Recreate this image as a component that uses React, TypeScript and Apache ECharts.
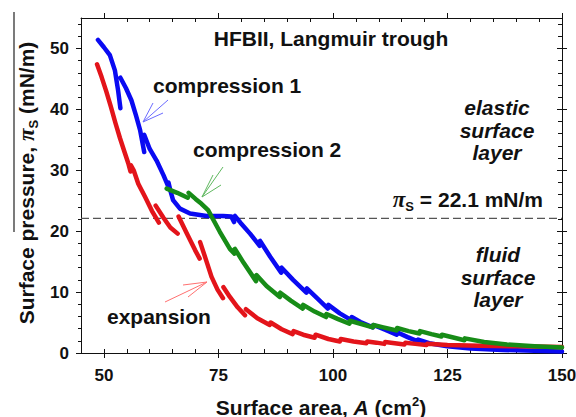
import React, { useEffect, useRef } from 'react';
import * as echarts from 'echarts';

const FONT = '"Liberation Sans", Arial, Helvetica, sans-serif';
const SERIF = '"Liberation Serif", "DejaVu Serif", serif';

// Axes
const xRange = [45, 150];
const yRange = [0, 55];
const xLabelTicks = [50, 75, 100, 125, 150];
const xMinorTicks = [55, 60, 65, 70, 80, 85, 90, 95, 105, 110, 115, 120, 130, 135, 140, 145];
const yLabelTicks = [0, 10, 20, 30, 40, 50];
const yMinorTicks = [2, 4, 6, 8, 12, 14, 16, 18, 22, 24, 26, 28, 32, 34, 36, 38, 42, 44, 46, 48, 52, 54];
const transitionPressure = 22.1;

// Compression 1 (blue): segments of [area cm2, pressure mN/m]
const compression1 = [
  [[48.7, 51.4], [50.0, 50.2], [51.3, 48.9], [52.4, 46.4], [53.1, 43.1], [53.6, 40.2]],
  [[53.6, 45.2], [54.8, 43.5], [56.0, 41.5], [57.0, 39.0], [57.9, 36.6], [58.8, 33.0]],
  [[58.8, 35.8], [60.0, 33.5], [61.5, 31.6], [63.0, 29.2], [63.9, 27.6]],
  [[64.1, 28.0], [64.6, 26.4], [65.1, 25.1], [66.6, 23.7], [68.8, 22.9], [72.4, 22.5], [76.0, 22.5], [77.8, 22.4], [78.4, 21.5]],
  [[78.6, 22.5], [79.8, 21.4], [81.9, 19.6], [84.0, 17.6]],
  [[84.1, 18.4], [86.3, 15.8], [88.7, 13.2]],
  [[88.8, 14.0], [91.3, 12.0], [94.2, 9.9]],
  [[94.3, 10.6], [96.7, 8.9], [98.9, 7.3]],
  [[99.0, 7.9], [101.5, 6.5], [104.0, 5.4]],
  [[104.1, 5.9], [106.0, 5.1], [108.7, 4.2]],
  [[108.8, 4.6], [111.5, 3.8], [113.9, 3.0]],
  [[114.0, 3.4], [116.3, 2.6], [118.5, 1.9]],
  [[118.6, 2.2], [121.0, 1.6], [125.0, 1.1], [130.0, 0.75], [137.0, 0.5], [144.0, 0.35], [150.0, 0.25]],
];

// Compression 2 (green)
const compression2 = [
  [[63.7, 27.0], [66.0, 26.3], [68.3, 25.5]],
  [[68.5, 26.3], [70.0, 25.3], [71.3, 24.5], [72.8, 23.4], [73.5, 22.4], [75.3, 19.9], [77.5, 17.1], [78.5, 16.3]],
  [[78.6, 17.1], [80.5, 14.8], [83.2, 11.8]],
  [[83.3, 12.8], [85.5, 11.0], [88.4, 9.2]],
  [[88.5, 9.9], [90.8, 8.6], [93.4, 7.3]],
  [[93.5, 7.9], [96.0, 6.8], [98.5, 5.9]],
  [[98.6, 6.4], [101.0, 5.6], [103.6, 4.8]],
  [[103.7, 5.3], [106.0, 4.8], [108.7, 4.2]],
  [[108.8, 4.6], [111.0, 4.2], [113.9, 3.7]],
  [[114.0, 4.1], [116.5, 3.6], [118.9, 3.2]],
  [[119.0, 3.6], [121.5, 3.1], [123.7, 2.7]],
  [[123.8, 3.0], [126.5, 2.5], [128.7, 2.1]],
  [[128.8, 2.4], [133.0, 1.8], [138.0, 1.4], [144.0, 1.1], [150.0, 0.9]],
];

// Expansion (red)
const expansion = [
  [[48.5, 47.4], [49.5, 45.3], [50.5, 43.0], [51.5, 40.5], [52.5, 37.8], [53.5, 35.3], [54.5, 33.0], [55.3, 31.2], [55.8, 29.8]],
  [[55.9, 30.8], [56.5, 30.0], [57.5, 27.8], [59.0, 25.6], [60.5, 23.3], [62.0, 21.4]],
  [[61.3, 24.2], [63.0, 22.2], [64.5, 20.6], [66.1, 19.6]],
  [[66.3, 22.4], [68.0, 19.8], [69.9, 16.9], [70.9, 15.5]],
  [[71.0, 18.2], [72.2, 15.5], [73.5, 12.5], [74.8, 10.4], [76.0, 9.0]],
  [[76.1, 10.8], [77.5, 9.2], [79.2, 7.5], [80.8, 6.2]],
  [[81.0, 7.2], [83.5, 5.7], [86.2, 4.6]],
  [[86.4, 5.0], [88.8, 3.9], [91.2, 3.1]],
  [[91.4, 3.6], [93.5, 3.0], [96.0, 2.5]],
  [[96.2, 3.0], [99.0, 2.3], [101.5, 1.9]],
  [[101.7, 2.3], [104.5, 1.9], [107.3, 1.6]],
  [[107.5, 1.9], [109.5, 1.7], [111.2, 1.5]],
  [[111.4, 1.8], [113.5, 1.6], [115.6, 1.4]],
  [[115.8, 1.7], [118.0, 1.5], [120.4, 1.3]],
  [[120.6, 1.5], [125.0, 1.3], [132.0, 1.2], [140.0, 1.1], [150.0, 1.0]],
];

const BLUE = '#0a0af2';
const GREEN = '#178c17';
const RED = '#e3141a';

function toLine(segments: number[][][]) {
  const out: any[] = [];
  segments.forEach((seg, i) => {
    if (i > 0) out.push([seg[0][0], '-']);
    seg.forEach((p) => out.push(p));
  });
  return out;
}

const tickColor = '#111';

export default function App() {
  const ref = useRef<HTMLDivElement>(null);
  useEffect(() => {
    if (!ref.current) return;
    const chart = echarts.init(ref.current, undefined, { renderer: 'svg' });

    const xCommon: any = {
      type: 'value', min: xRange[0], max: xRange[1], splitLine: { show: false },
    };
    const yCommon: any = {
      type: 'value', min: yRange[0], max: yRange[1], splitLine: { show: false },
    };
    const line = (show: boolean) => ({ show, onZero: false, lineStyle: { color: '#111', width: 1 } });
    const tick = (values: number[], inside: boolean, length: number) => ({
      show: true, inside, length, customValues: values, lineStyle: { color: tickColor, width: 1 },
    });
    const labelStyle = { fontSize: 17, fontWeight: 'bold', color: '#111', fontFamily: FONT };

    const lineSeries = (name: string, segs: number[][][], color: string, z: number) => ({
      type: 'line', name, data: toLine(segs), xAxisIndex: 0, yAxisIndex: 0,
      symbol: 'none', showSymbol: false, connectNulls: false, z,
      lineStyle: { color, width: 4.5, cap: 'round', join: 'round' },
    });

    const arrow = (color: string, tip: number[], ends: number[][]) =>
      ends.map((e) => ({
        type: 'line', silent: true,
        shape: { x1: tip[0], y1: tip[1], x2: e[0], y2: e[1] },
        style: { stroke: color, lineWidth: 1 },
      }));

    const textEl = (text: string, x: number, y: number, extra: any = {}) => ({
      type: 'text', x, y, silent: true,
      style: {
        text, fontSize: 21, fontWeight: 'bold', fontFamily: FONT, fill: '#111',
        align: 'left', verticalAlign: 'middle', ...extra,
      },
    });

    chart.setOption({
      animation: false,
      backgroundColor: '#fff',
      grid: { left: 81, right: 14, top: 18, bottom: 64, containLabel: false, outerBoundsMode: 'none' },
      xAxis: [
        { ...xCommon, position: 'bottom', axisLine: line(true), axisTick: tick([...xLabelTicks, ...xMinorTicks], true, 4),
          axisLabel: { show: true, customValues: xLabelTicks, margin: 14, ...labelStyle } },
        { ...xCommon, position: 'bottom', axisLine: line(false), axisTick: tick(xLabelTicks, false, 5), axisLabel: { show: false } },
        { ...xCommon, position: 'top', axisLine: line(true), axisTick: tick(xMinorTicks, true, 4), axisLabel: { show: false } },
        { ...xCommon, position: 'top', axisLine: line(false), axisTick: tick(xLabelTicks, false, 5), axisLabel: { show: false } },
      ],
      yAxis: [
        { ...yCommon, position: 'left', axisLine: line(true), axisTick: tick(yLabelTicks, false, 5),
          axisLabel: { show: true, customValues: yLabelTicks, margin: 12, ...labelStyle } },
        { ...yCommon, position: 'left', axisLine: line(false), axisTick: tick(yMinorTicks, false, 3), axisLabel: { show: false } },
        { ...yCommon, position: 'right', axisLine: line(true), axisTick: tick(yMinorTicks, true, 4), axisLabel: { show: false } },
        { ...yCommon, position: 'right', axisLine: line(false), axisTick: tick(yLabelTicks, true, 5), axisLabel: { show: false } },
        { ...yCommon, position: 'right', axisLine: line(false), axisTick: tick(yLabelTicks, false, 5), axisLabel: { show: false } },
      ],
      series: [
        {
          type: 'line', name: 'threshold', xAxisIndex: 0, yAxisIndex: 0, symbol: 'none', z: 1,
          data: [[xRange[0], transitionPressure], [xRange[1], transitionPressure]],
          lineStyle: { color: '#555', width: 1.4, type: [8, 4] },
        },
        lineSeries('compression 1', compression1, BLUE, 2),
        lineSeries('expansion', expansion, RED, 3),
        lineSeries('compression 2', compression2, GREEN, 4),
      ],
      graphic: [
        { type: 'line', silent: true, shape: { x1: 14, y1: 12, x2: 14, y2: 232 }, style: { stroke: '#222', lineWidth: 1.2 } },
        textEl('HFBII, Langmuir trough', 331, 38, { align: 'center' }),
        textEl('compression 1', 153, 85),
        textEl('compression 2', 193, 149),
        textEl('expansion', 107, 316),
        textEl('elastic\nsurface\nlayer', 497, 130, { align: 'center', fontStyle: 'italic', lineHeight: 22.5 }),
        textEl('fluid\nsurface\nlayer', 498, 277, { align: 'center', fontStyle: 'italic', lineHeight: 22.5 }),
        textEl('{pi|π}{sub|S} = 22.1 mN/m', 543, 199, {
          align: 'right', lineHeight: 28,
          rich: {
            pi: { fontFamily: SERIF, fontStyle: 'italic', fontWeight: 'bold', fontSize: 23, fill: '#111' },
            sub: { fontFamily: FONT, fontWeight: 'bold', fontSize: 13, verticalAlign: 'bottom', fill: '#111' },
          },
        }),
        {
          type: 'text', x: 26, y: 183, rotation: Math.PI / 2, silent: true,
          style: {
            text: 'Surface pressure, {pi|π}{sub|S} (mN/m)', fontSize: 21, fontWeight: 'bold', fontFamily: FONT,
            fill: '#111', align: 'center', verticalAlign: 'middle', lineHeight: 28,
            rich: {
              pi: { fontFamily: SERIF, fontStyle: 'italic', fontWeight: 'bold', fontSize: 23, fill: '#111' },
              sub: { fontFamily: FONT, fontWeight: 'bold', fontSize: 13, verticalAlign: 'bottom', fill: '#111' },
            },
          },
        },
        {
          type: 'text', x: 321, y: 407, silent: true,
          style: {
            text: 'Surface area, {i|A} (cm{sup|2})', fontSize: 21, fontWeight: 'bold', fontFamily: FONT,
            fill: '#111', align: 'center', verticalAlign: 'middle', lineHeight: 24,
            rich: {
              i: { fontFamily: FONT, fontStyle: 'italic', fontWeight: 'bold', fontSize: 21, fill: '#111' },
              sup: { fontFamily: FONT, fontWeight: 'bold', fontSize: 13, verticalAlign: 'top', fill: '#111' },
            },
          },
        },
        ...arrow('#6b6bff', [143, 122], [[168, 100], [153, 103], [163, 113]]),
        ...arrow('#5fb85f', [202, 197], [[223, 167], [213, 175], [221, 185]]),
        ...arrow('#ff7070', [207, 282], [[165, 302], [183, 285], [188, 297]]),
      ],
    });
    return () => chart.dispose();
  }, []);
  return (
    <div
      ref={ref}
      style={{ position: 'fixed', left: 0, top: 0, width: 576, height: 417, background: '#fff' }}
    />
  );
}
